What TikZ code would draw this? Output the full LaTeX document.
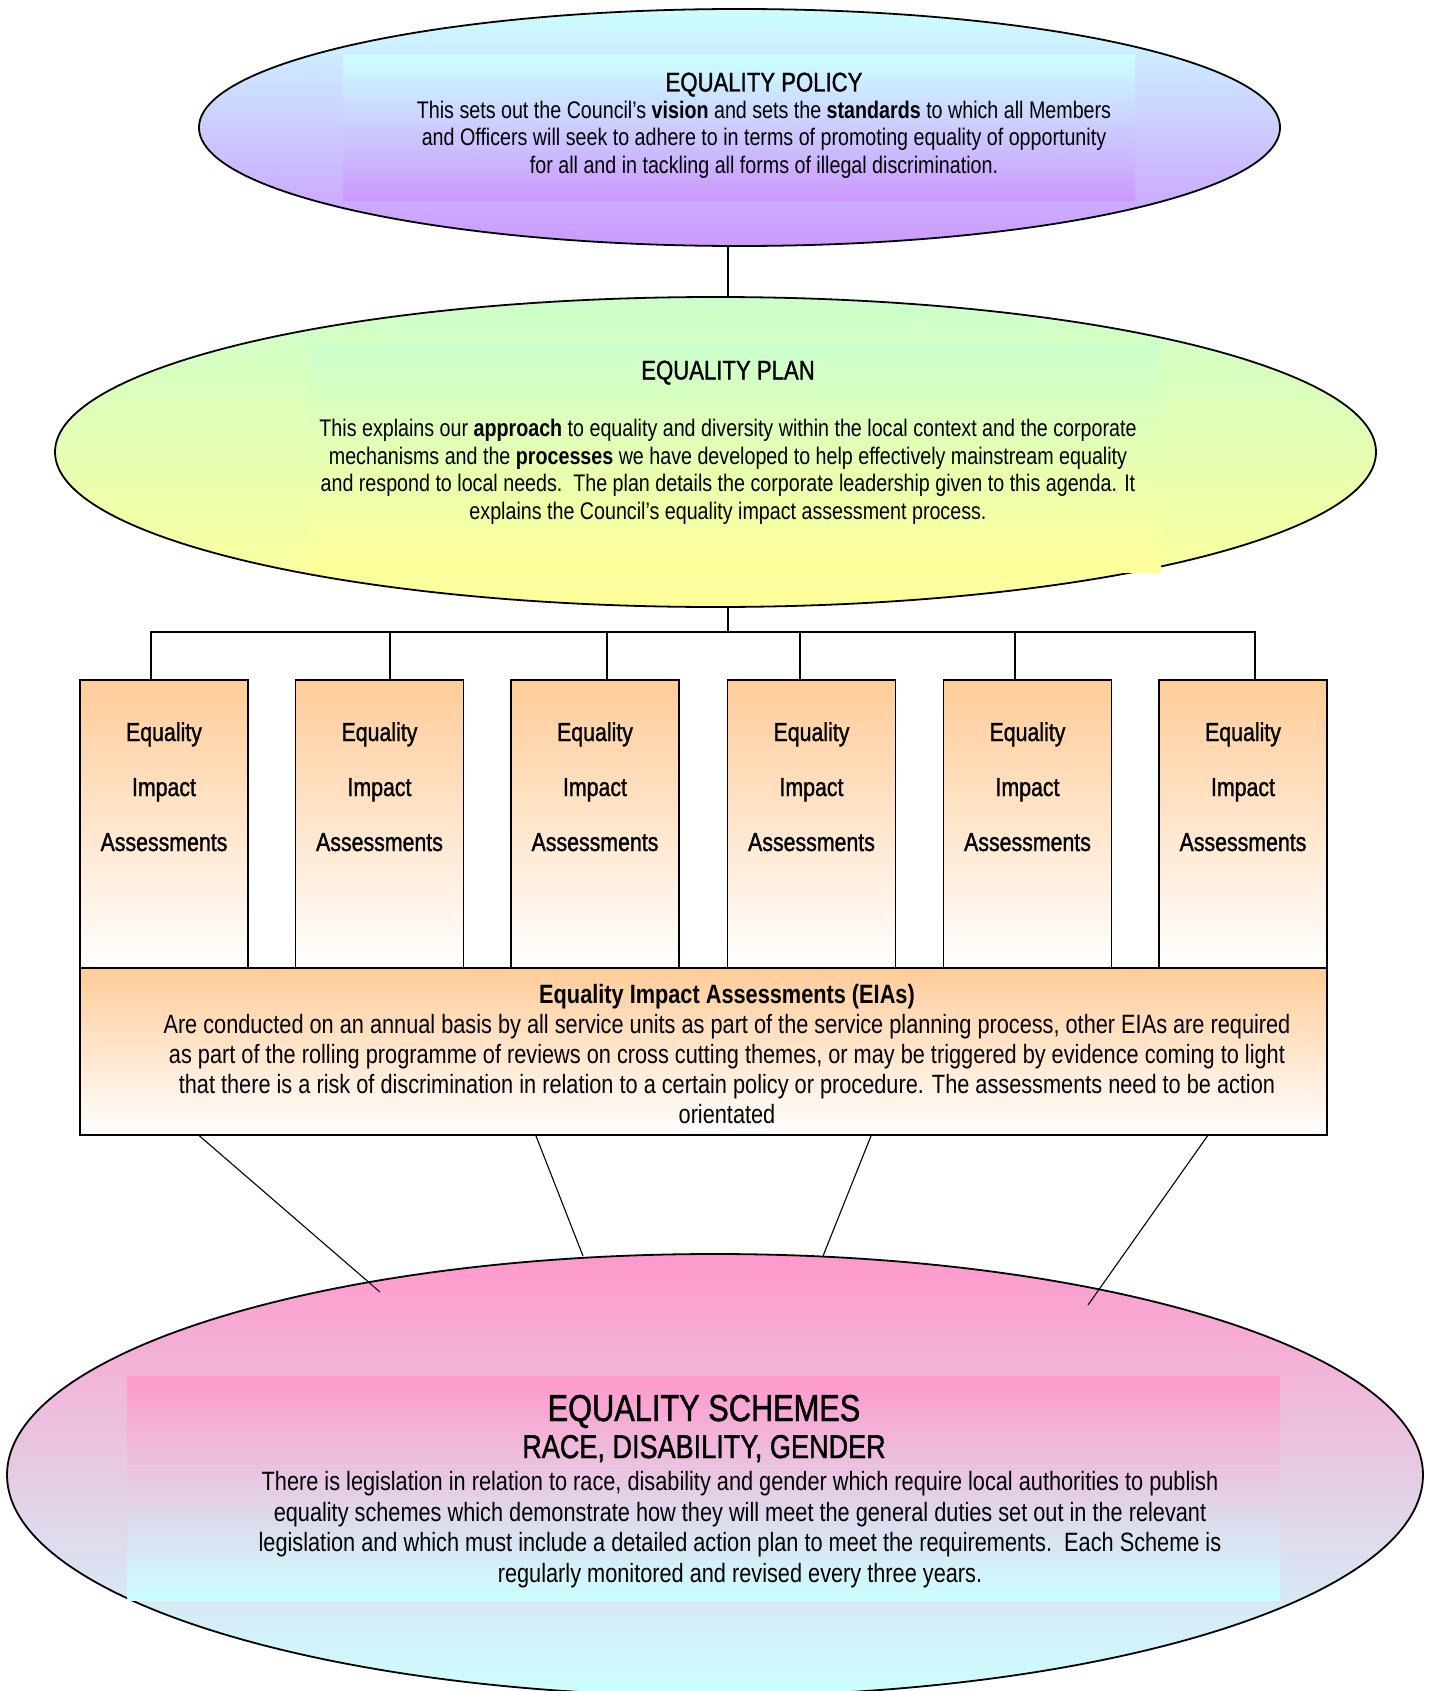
\documentclass[tikz,border=0pt]{standalone}
\usepackage{fontspec}
\setmainfont{Liberation Sans}[FakeStretch=0.82]
\newfontfamily\headfont{Liberation Sans}[FakeStretch=0.82, FakeBold=1.2]
\usetikzlibrary{shapes.geometric}

\definecolor{policytop}{HTML}{CCFFFF}
\definecolor{policybot}{HTML}{CC99FF}
\definecolor{plantop}{HTML}{CCFFCC}
\definecolor{planbot}{HTML}{FFFF99}
\definecolor{peach}{HTML}{FFCC99}
\definecolor{schemetop}{HTML}{FF99CC}
\definecolor{schemebot}{HTML}{CCFFFF}

\begin{document}
\begin{tikzpicture}[x=1pt, y=-1pt,
  blob/.style={ellipse, draw, line width=1.8pt, inner sep=0pt},
  eiabox/.style={rectangle, draw, line width=1.8pt, inner sep=0pt, top color=peach, bottom color=white},
  link/.style={line width=1.8pt},
  spoke/.style={line width=1.1pt},
  bodytext/.style={align=center, inner sep=0pt, font=\fontsize{24}{27.5}\selectfont},
  headtext/.style={inner sep=0pt, font=\headfont\fontsize{27}{30}\selectfont}]

  \useasboundingbox (0,0) rectangle (1434,1691);

  % policy
  \node[blob, minimum width=1081pt, minimum height=237pt, top color=policytop, bottom color=policybot] (policy) at (739.5,127.5) {};
  \shade[top color=policytop, bottom color=policybot] (343,56) rectangle (1135,200);
  \node[headtext, anchor=base] (policytitle) at (764,91.5) {EQUALITY POLICY};
  \node[bodytext, anchor=base] (policytext) at (764,173) {This sets out the Council’s \textbf{vision} and sets the \textbf{standards} to which all Members\\
    and Officers will seek to adhere to in terms of promoting equality of opportunity\\
    for all and in tackling all forms of illegal discrimination.};

  % plan
  \node[blob, minimum width=1321pt, minimum height=310pt, top color=plantop, bottom color=planbot] (plan) at (715.5,452) {};
  \shade[top color=plantop, bottom color=planbot] (310,345) rectangle (1161,572);
  \node[headtext, anchor=base] (plantitle) at (728,379.5) {EQUALITY PLAN};
  \node[bodytext, anchor=base] (plantext) at (728,519) {This explains our \textbf{approach} to equality and diversity within the local context and the corporate\\
    mechanisms and the \textbf{processes} we have developed to help effectively mainstream equality\\
    and respond to local needs.\ \ The plan details the corporate leadership given to this agenda. It\\
    explains the Council’s equality impact assessment process.};

  \coordinate (hub) at (728,632);
  \draw[link] (hub |- policy.south) -- (hub |- plan.north);
  \draw[link] (hub |- plan.south) -- (hub);

  % single assessments
  \foreach \i/\x in {1/164, 2/379.5, 3/595, 4/811.5, 5/1027.5, 6/1243} {
    \node[eiabox, minimum width=168pt, minimum height=288pt] (eia\i) at (\x,824) {};
    \node[align=center, inner sep=0pt, font=\headfont\fontsize{26}{55}\selectfont, anchor=base] (eia\i txt) at (\x,851) {Equality\\Impact\\Assessments};
  }
  \foreach \i/\dx in {1/-13, 2/10.5, 3/12, 4/-11.5, 5/-12.5, 6/12}
    \coordinate (tap\i) at ([xshift=\dx pt]eia\i.north);
  \draw[link] (tap1) -- (tap1 |- hub) -- (tap6 |- hub) -- (tap6);
  \foreach \i in {2,...,5}
    \draw[link] (tap\i |- hub) -- (tap\i);

  % EIAs
  \node[eiabox, minimum width=1247pt, minimum height=167pt] (eias) at (703.5,1051.5) {};
  \node[bodytext, font=\fontsize{26.5}{30}\selectfont, anchor=base] (eiastext) at (727,1123) {\textbf{Equality Impact Assessments (EIAs)}\\
    Are conducted on an annual basis by all service units as part of the service planning process, other EIAs are required\\
    as part of the rolling programme of reviews on cross cutting themes, or may be triggered by evidence coming to light\\
    that there is a risk of discrimination in relation to a certain policy or procedure. The assessments need to be action\\
    orientated};

  % schemes
  \node[blob, minimum width=1416pt, minimum height=442pt, top color=schemetop, bottom color=schemebot] (schemes) at (715,1475) {};
  \shade[top color=schemetop, bottom color=schemebot] (127,1376) rectangle (1280,1600);
  \node[headtext, font=\headfont\fontsize{37.5}{40}\selectfont, anchor=base] (schemestitle) at (704,1421) {EQUALITY SCHEMES};
  \node[headtext, font=\headfont\fontsize{33}{36}\selectfont, anchor=base] (schemessub) at (704,1458) {RACE, DISABILITY, GENDER};
  \node[bodytext, font=\fontsize{26.5}{30.5}\selectfont, anchor=base] (schemestext) at (740,1582) {There is legislation in relation to race, disability and gender which require local authorities to publish\\
    equality schemes which demonstrate how they will meet the general duties set out in the relevant\\
    legislation and which must include a detailed action plan to meet the requirements.\ \ Each Scheme is\\
    regularly monitored and revised every three years.};

  \coordinate (s1) at (380,1292);
  \coordinate (s2) at (583,1256);
  \coordinate (s3) at (823,1256);
  \coordinate (s4) at (1088,1305);
  \draw[spoke] ([xshift=-504pt]eias.south) -- (s1);
  \draw[spoke] ([xshift=-167.5pt]eias.south) -- (s2);
  \draw[spoke] ([xshift=167.5pt]eias.south) -- (s3);
  \draw[spoke] ([xshift=504pt]eias.south) -- (s4);

\end{tikzpicture}
\end{document}
